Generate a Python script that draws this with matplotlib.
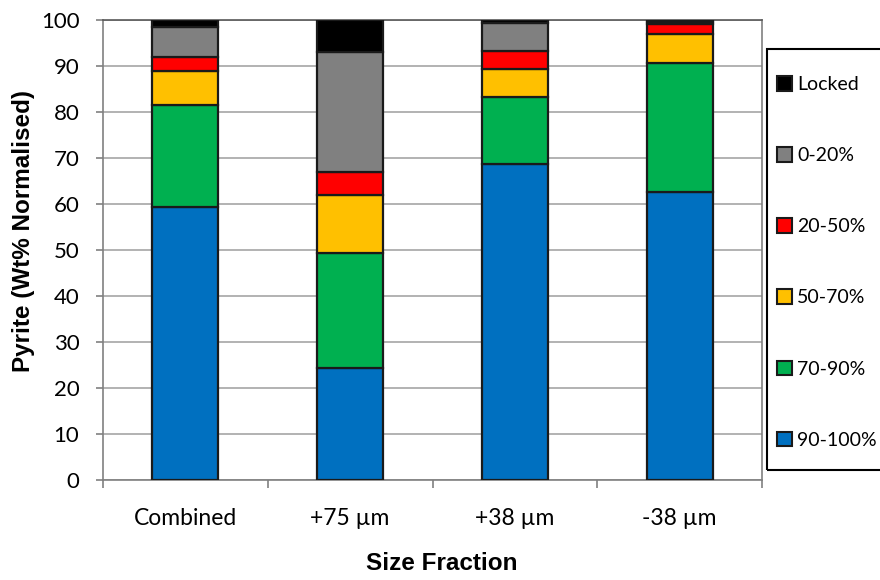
import numpy as np
import matplotlib
matplotlib.use('Agg')
import matplotlib.pyplot as plt
from matplotlib.patches import Rectangle

categories = ['Combined', '+75 µm', '+38 µm', '-38 µm']
classes = ['90-100%', '70-90%', '50-70%', '20-50%', '0-20%', 'Locked']
colors = ['#0070C0', '#00B050', '#FFC000', '#FF0000', '#808080', '#000000']

# wt% per liberation class, bottom to top
v_90_100 = [59.3, 24.4, 68.6, 62.7]
v_70_90 = [22.2, 24.9, 14.7, 27.9]
v_50_70 = [7.4, 12.7, 6.0, 6.4]
v_20_50 = [3.1, 5.0, 4.0, 2.1]
v_0_20 = [6.5, 26.1, 6.1, 0.5]
v_locked = [1.5, 6.9, 0.6, 0.4]
series = [v_90_100, v_70_90, v_50_70, v_20_50, v_0_20, v_locked]

tick_font = 'Lato'
label_font = 'Liberation Sans'

fig = plt.figure(figsize=(8.8, 5.8), dpi=100)
ax = fig.add_axes([103 / 880, 100 / 580, 659 / 880, 460 / 580])

x = np.arange(len(categories))
bottom = np.zeros(len(categories))
handles = []
for vals, col, name in zip(series, colors, classes):
    h = ax.bar(x, vals, 0.4, bottom=bottom, color=col, edgecolor='#1a1a1a',
               linewidth=1.6, label=name, zorder=3)
    handles.append(h)
    bottom += np.array(vals)

ax.set_xlim(-0.5, len(categories) - 0.5)
ax.set_ylim(0, 100)
ax.set_yticks(np.arange(0, 101, 10))
ax.yaxis.grid(True, color='#A6A6A6', linewidth=1.2, zorder=0)
ax.set_axisbelow(True)

ax.set_xticks(x)
ax.set_xticklabels(categories, fontfamily=tick_font, fontsize=16.5)
ax.set_xticks(np.arange(-0.5, len(categories) - 0.4, 1), minor=True)
ax.tick_params(axis='x', which='major', length=0, pad=20)
ax.tick_params(axis='x', which='minor', length=5.5, color='#808080', width=1.2)
ax.tick_params(axis='y', length=5, color='#808080', width=1.2, labelsize=16, pad=12)
for lab in ax.get_yticklabels():
    lab.set_fontfamily(tick_font)

for side in ['left', 'bottom', 'right']:
    ax.spines[side].set_color('#808080')
    ax.spines[side].set_linewidth(1.2)
ax.spines['top'].set_color('#595959')
ax.spines['top'].set_linewidth(1.2)

fig.text(442 / 880, 1 - 563 / 580, 'Size Fraction', fontfamily=label_font,
         fontsize=17.5, fontweight='bold', ha='center', va='center')
fig.text(24 / 880, 1 - 231 / 580, 'Pyrite (Wt% Normalised)', fontfamily=label_font,
         fontsize=17.5, fontweight='bold', ha='center', va='center', rotation=90)

# legend box drawn separately so the entries can be spread out
fig.patches.append(Rectangle((767 / 880, 1 - 470 / 580), 120 / 880, 421 / 580,
                             transform=fig.transFigure, fill=False,
                             edgecolor='#000000', linewidth=1.5))
leg = fig.legend(handles[::-1], classes[::-1], loc='upper left',
                 bbox_to_anchor=(777 / 880, 1 - 76 / 580),
                 prop={'family': tick_font, 'size': 14},
                 frameon=False, handlelength=0.78, handleheight=0.78,
                 handletextpad=0.25, labelspacing=2.78, borderpad=0,
                 borderaxespad=0)
for p in leg.get_patches():
    p.set_linewidth(1.5)

fig.savefig('out.png', dpi=100)
